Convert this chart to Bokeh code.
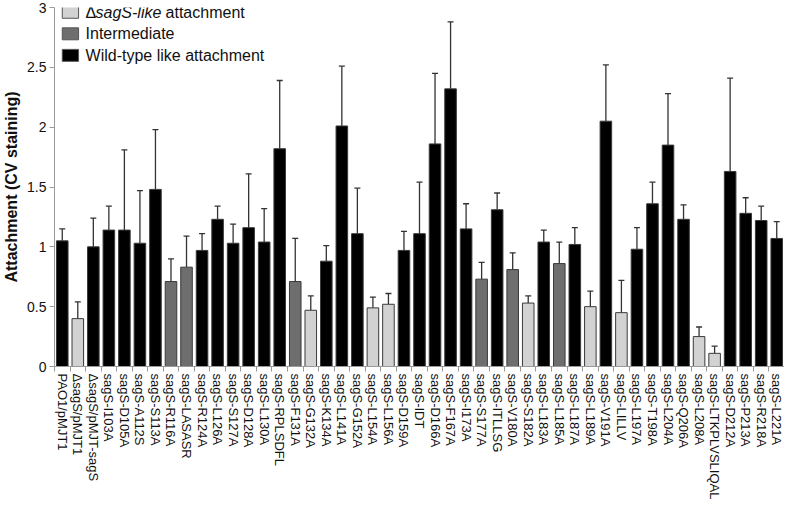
from bokeh.plotting import figure
from bokeh.models import (ColumnDataSource, Range1d, FixedTicker, Whisker, TeeHead,
                          CustomJSTickFormatter)
from bokeh.core.properties import value
from bokeh.embed import file_html
from bokeh.resources import INLINE

strains = ["PAO1/pMJT1", "\u0394sagS/pMJT1", "\u0394sagS/pMJT-sagS", "sagS-I103A", "sagS-D105A",
           "sagS-A112S", "sagS-S113A", "sagS-R116A", "sagS-LASASR", "sagS-R124A", "sagS-L126A",
           "sagS-S127A", "sagS-D128A", "sagS-L130A", "sagS-RPLSDFL", "sagS-F131A", "sagS-G132A",
           "sagS-K134A", "sagS-L141A", "sagS-G152A", "sagS-L154A", "sagS-L156A", "sagS-D159A",
           "sagS-IDT", "sagS-D166A", "sagS-F167A", "sagS-I173A", "sagS-S177A", "sagS-ITLLSG",
           "sagS-V180A", "sagS-S182A", "sagS-L183A", "sagS-L185A", "sagS-L187A", "sagS-L189A",
           "sagS-V191A", "sagS-LILLV", "sagS-L197A", "sagS-T198A", "sagS-L204A", "sagS-Q206A",
           "sagS-L208A", "sagS-LTKPLVSLIQAL", "sagS-D212A", "sagS-P213A", "sagS-R218A", "sagS-L221A"]

attachment = [1.05, 0.40, 1.00, 1.14, 1.14, 1.03, 1.48, 0.71, 0.83, 0.97, 1.23,
              1.03, 1.16, 1.04, 1.82, 0.71, 0.47, 0.88, 2.01, 1.11, 0.49, 0.52, 0.97,
              1.11, 1.86, 2.32, 1.15, 0.73, 1.31, 0.81, 0.53, 1.04, 0.86, 1.02, 0.50,
              2.05, 0.45, 0.98, 1.36, 1.85, 1.23, 0.25, 0.11, 1.63, 1.28, 1.22, 1.07]

error = [0.10, 0.14, 0.24, 0.20, 0.67, 0.44, 0.50, 0.19, 0.26, 0.14, 0.11,
         0.16, 0.45, 0.28, 0.57, 0.36, 0.12, 0.13, 0.50, 0.38, 0.09, 0.09, 0.16,
         0.43, 0.59, 0.56, 0.21, 0.14, 0.14, 0.14, 0.06, 0.10, 0.18, 0.14, 0.13,
         0.47, 0.27, 0.18, 0.18, 0.43, 0.12, 0.08, 0.06, 0.78, 0.13, 0.12, 0.14]

phenotype = ["wt", "like", "wt", "wt", "wt", "wt", "wt", "inter", "inter", "wt", "wt",
             "wt", "wt", "wt", "wt", "inter", "like", "wt", "wt", "wt", "like", "like", "wt",
             "wt", "wt", "wt", "wt", "inter", "wt", "inter", "like", "wt", "inter", "wt", "like",
             "wt", "like", "wt", "wt", "wt", "wt", "like", "like", "wt", "wt", "wt", "wt"]

y_ticks = [0, 0.5, 1, 1.5, 2, 2.5, 3]

FONT = "Liberation Sans"
colors = {"like": "#d2d2d2", "inter": "#6e6e6e", "wt": "#000000"}

xs = list(range(1, len(strains) + 1))
src = ColumnDataSource(dict(
    x=xs, top=attachment,
    upper=[a + e for a, e in zip(attachment, error)],
    color=[colors[c] for c in phenotype],
))

p = figure(width=784, height=502, output_backend="svg", toolbar_location=None,
           x_range=Range1d(0.5, len(strains) + 0.5), y_range=Range1d(0, 3),
           min_border_left=0, min_border_right=0, min_border_top=7, min_border_bottom=0)
p.outline_line_color = None
p.xgrid.visible = False
p.ygrid.visible = False
p.background_fill_color = "white"

p.vbar(x="x", top="top", bottom=0, width=0.745, source=src,
       fill_color="color", line_color="#3a3a3a", line_width=1)

w = Whisker(base="x", lower="top", upper="upper", source=src,
            line_color="#333333", line_width=1.3,
            lower_head=None, upper_head=TeeHead(size=6, line_color="#333333", line_width=1.3))
p.add_layout(w)

# x axis
xa = p.xaxis[0]
xa.ticker = FixedTicker(ticks=xs, minor_ticks=[i + 0.5 for i in range(0, len(strains) + 1)])
xa.major_label_overrides = {i: s for i, s in zip(xs, strains)}
xa.major_label_orientation = "vertical"
xa.major_label_text_font = FONT
xa.major_label_text_font_size = "13px"
xa.major_label_text_color = "#111111"
xa.major_tick_line_color = None
xa.major_tick_out = 5
xa.major_tick_in = 0
xa.major_label_standoff = 2
xa.minor_tick_out = 5
xa.minor_tick_in = 0
xa.minor_tick_line_color = "#9a9a9a"
xa.axis_line_color = "#9a9a9a"
xa.axis_label_standoff = 0

# y axis
ya = p.yaxis[0]
ya.ticker = FixedTicker(ticks=y_ticks, minor_ticks=[])
ya.formatter = CustomJSTickFormatter(code="return tick.toString();")
ya.major_label_text_font = FONT
ya.major_label_text_font_size = "14px"
ya.major_label_text_color = "#111111"
ya.major_tick_out = 5
ya.major_tick_in = 0
ya.major_tick_line_color = "#9a9a9a"
ya.axis_line_color = "#9a9a9a"
ya.major_label_standoff = 3
ya.axis_label = "Attachment (CV staining)"
ya.axis_label_text_font = FONT
ya.axis_label_text_font_size = "16px"
ya.axis_label_text_font_style = "bold"
ya.axis_label_text_color = "#111111"
ya.axis_label_standoff = 4

# legend (manual, to allow the italic part)
leg_x0, leg_x1 = 1.0, 2.05
rows = [2.96, 2.78, 2.60]
leg_colors = [colors["like"], colors["inter"], colors["wt"]]
p.quad(left=[leg_x0] * 3, right=[leg_x1] * 3,
       top=[r + 0.05 for r in rows], bottom=[r - 0.05 for r in rows],
       fill_color=leg_colors, line_color="#555555", line_width=1)
tx = 2.5
common = dict(text_font=value(FONT), text_font_size="16px", text_baseline="middle",
              text_align="left", text_color="#111111")
p.text(x=[tx], y=[rows[0]], text=["\u0394"], **common)
p.text(x=[tx], y=[rows[0]], text=["sagS-like"], x_offset=10, text_font_style="italic", **common)
p.text(x=[tx], y=[rows[0]], text=[" attachment"], x_offset=80, **common)
p.text(x=[tx, tx], y=[rows[1], rows[2]], text=["Intermediate", "Wild-type like attachment"], **common)

open("out.html", "w").write(file_html(p, INLINE))
